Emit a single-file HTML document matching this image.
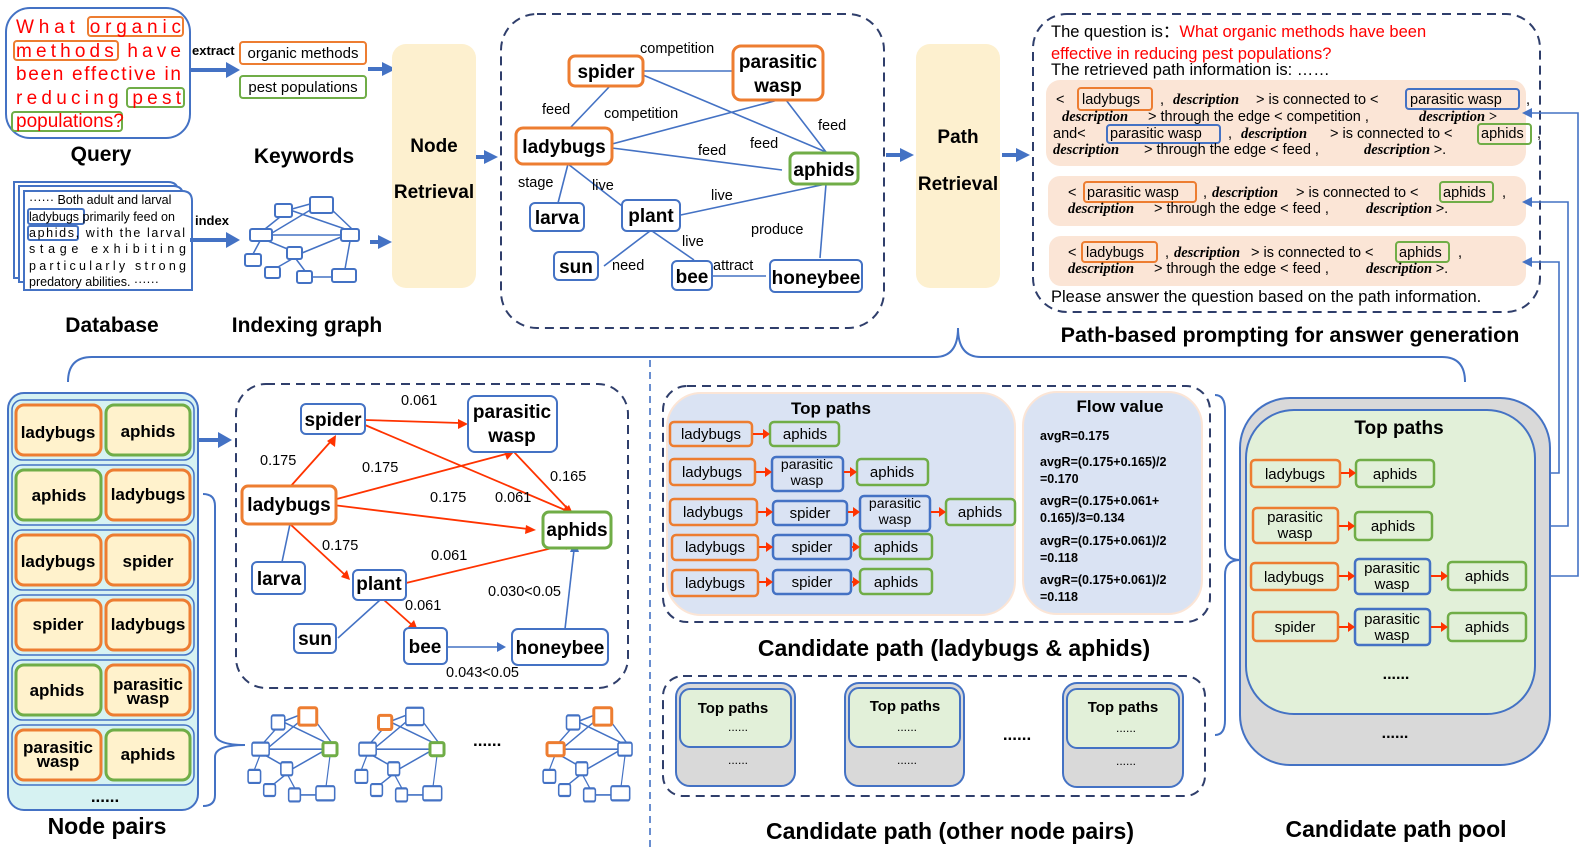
<!DOCTYPE html>
<html><head><meta charset="utf-8"><style>
body{margin:0;background:#fff}
svg{display:block;font-family:"Liberation Sans",sans-serif}
.b{font-weight:bold}
.d{font-family:"Liberation Serif",serif;font-style:italic;font-weight:bold}
</style></head><body>
<svg width="1580" height="856" viewBox="0 0 1580 856" xmlns="http://www.w3.org/2000/svg">
<defs>
<g id="g">
<g fill="none" stroke="#4472C4" stroke-width="1.5" vector-effect="non-scaling-stroke">
<line x1="292" y1="209" x2="310" y2="204"/><line x1="280" y1="217" x2="265" y2="229"/>
<line x1="290" y1="210" x2="345" y2="229"/><line x1="330" y1="208" x2="352" y2="229"/>
<line x1="272" y1="233" x2="312" y2="209"/><line x1="272" y1="235" x2="341" y2="235"/>
<line x1="268" y1="241" x2="290" y2="250"/><line x1="253" y1="254" x2="260" y2="241"/>
<line x1="302" y1="253" x2="341" y2="237"/><line x1="292" y1="259" x2="278" y2="267"/>
<line x1="296" y1="259" x2="305" y2="271"/><line x1="312" y1="277" x2="332" y2="277"/>
<line x1="350" y1="241" x2="345" y2="269"/>
</g>
<g fill="#fff" stroke="#4472C4" stroke-width="2">
<rect x="275" y="204" width="17" height="13" rx="2"/><rect x="310" y="197" width="23" height="16" rx="2"/>
<rect x="250" y="229" width="22" height="12" rx="2"/><rect x="341" y="229" width="18" height="12" rx="2"/>
<rect x="287" y="247" width="15" height="12" rx="2"/><rect x="245" y="254" width="16" height="12" rx="2"/>
<rect x="265" y="267" width="15" height="11" rx="2"/><rect x="297" y="271" width="15" height="12" rx="2"/>
<rect x="332" y="269" width="24" height="13" rx="2"/>
</g>
</g>
</defs>

<!-- Query -->
<rect x="6" y="8" width="184" height="130" rx="24" fill="#fff" stroke="#4472C4" stroke-width="2"/>
<g fill="none" stroke-width="2">
<rect x="88" y="17" width="95" height="19" rx="3" stroke="#ED7D31"/>
<rect x="14" y="41" width="104" height="19" rx="3" stroke="#ED7D31"/>
<rect x="127" y="88" width="57" height="19" rx="3" stroke="#70AD47"/>
<rect x="12" y="112" width="110" height="19" rx="3" stroke="#70AD47"/>
</g>
<g fill="#FF0000" font-size="19">
<text x="16" y="33" textLength="165" lengthAdjust="spacing">What organic</text>
<text x="16" y="57" textLength="165" lengthAdjust="spacing">methods have</text>
<text x="16" y="80" textLength="165" lengthAdjust="spacing">been effective in</text>
<text x="16" y="104" textLength="165" lengthAdjust="spacing">reducing pest</text>
<text x="16" y="127">populations?</text>
</g>
<text x="101" y="161" font-size="21" class="b" text-anchor="middle">Query</text>
<text x="192" y="55" font-size="13" class="b">extract</text>
<rect x="240" y="42" width="126" height="22" rx="3" fill="#fff" stroke="#ED7D31" stroke-width="2"/>
<rect x="240" y="76" width="126" height="22" rx="3" fill="#fff" stroke="#70AD47" stroke-width="2"/>
<text x="303" y="58" font-size="15" text-anchor="middle">organic methods</text>
<text x="303" y="92" font-size="15" text-anchor="middle">pest populations</text>
<text x="304" y="163" font-size="21" class="b" text-anchor="middle">Keywords</text>

<!-- Database -->
<path d="M14,182 H168 Q178,182 178,192 V278 H14Z" fill="#fff" stroke="#4472C4" stroke-width="2"/>
<path d="M19,186 H173 Q183,186 183,196 V282 H19Z" fill="#fff" stroke="#4472C4" stroke-width="2"/>
<path d="M24,191 H182 Q192,191 192,201 V290 H24Z" fill="#fff" stroke="#4472C4" stroke-width="2"/>
<rect x="28" y="209" width="56" height="15" rx="2" fill="none" stroke="#4472C4" stroke-width="2"/>
<rect x="28" y="226" width="50" height="14" rx="2" fill="none" stroke="#4472C4" stroke-width="2"/>
<g font-size="12.5">
<text x="29" y="204">······ Both adult and larval</text>
<text x="29" y="221">ladybugs primarily feed on</text>
<text x="29" y="237" textLength="156" lengthAdjust="spacing">aphids, with the larval</text>
<text x="29" y="253" textLength="157" lengthAdjust="spacing">stage exhibiting</text>
<text x="29" y="270" textLength="157" lengthAdjust="spacing">particularly strong</text>
<text x="29" y="286">predatory abilities. ······</text>
</g>
<text x="195" y="225" font-size="13" class="b">index</text>
<use href="#g"/>
<text x="112" y="332" font-size="21" class="b" text-anchor="middle">Database</text>
<text x="307" y="332" font-size="21" class="b" text-anchor="middle">Indexing graph</text>

<!-- block arrows -->
<g fill="#4472C4" stroke="none">
<rect x="190" y="68" width="38" height="4"/><polygon points="226,62 240,70 226,78"/>
<rect x="368" y="67" width="16" height="4"/><polygon points="382,62 396,69 382,76"/>
<rect x="190" y="238" width="38" height="4"/><polygon points="226,232 240,240 226,248"/>
<rect x="370" y="240" width="10" height="4"/><polygon points="378,235 392,242 378,249"/>
<rect x="476" y="155" width="10" height="4"/><polygon points="484,150 498,157 484,164"/>
<rect x="886" y="153" width="16" height="4"/><polygon points="900,148 914,155 900,162"/>
<rect x="1002" y="153" width="16" height="4"/><polygon points="1016,148 1030,155 1016,162"/>
<rect x="198" y="438" width="22" height="4"/><polygon points="218,432 232,440 218,448"/>
</g>

<!-- Node Retrieval / Path Retrieval -->
<rect x="392" y="44" width="84" height="244" rx="14" fill="#FDF0CF"/>
<text x="434" y="152" font-size="19" class="b" text-anchor="middle">Node</text>
<text x="434" y="198" font-size="19" class="b" text-anchor="middle">Retrieval</text>
<rect x="916" y="44" width="84" height="244" rx="14" fill="#FDF0CF"/>
<text x="958" y="143" font-size="19" class="b" text-anchor="middle">Path</text>
<text x="958" y="190" font-size="19" class="b" text-anchor="middle">Retrieval</text>

<!-- top graph -->
<rect x="501" y="14" width="383" height="314" rx="36" fill="none" stroke="#2F3E6B" stroke-width="2" stroke-dasharray="9,6"/>
<g stroke="#4472C4" stroke-width="1.6">
<line x1="643" y1="71" x2="733" y2="71"/><line x1="610" y1="86" x2="570" y2="128"/>
<line x1="612" y1="144" x2="778" y2="100"/><line x1="643" y1="75" x2="826" y2="152"/>
<line x1="786" y1="100" x2="826" y2="152"/><line x1="612" y1="148" x2="782" y2="170"/>
<line x1="568" y1="164" x2="558" y2="203"/><line x1="568" y1="164" x2="622" y2="206"/>
<line x1="676" y1="216" x2="826" y2="184"/><line x1="650" y1="231" x2="604" y2="266"/>
<line x1="652" y1="231" x2="694" y2="260"/><line x1="712" y1="276" x2="766" y2="276"/>
<line x1="826" y1="184" x2="820" y2="258"/>
</g>
<g fill="#fff" stroke-width="3">
<rect x="569" y="56" width="74" height="30" rx="6" stroke="#ED7D31"/>
<rect x="733" y="46" width="90" height="54" rx="8" stroke="#ED7D31"/>
<rect x="516" y="128" width="96" height="36" rx="7" stroke="#ED7D31"/>
<rect x="790" y="153" width="68" height="31" rx="6" stroke="#70AD47"/>
</g>
<g fill="#fff" stroke="#4472C4" stroke-width="2">
<rect x="530" y="203" width="54" height="28" rx="5"/><rect x="622" y="200" width="58" height="31" rx="5"/>
<rect x="554" y="252" width="44" height="28" rx="5"/><rect x="672" y="261" width="40" height="29" rx="5"/>
<rect x="770" y="260" width="92" height="32" rx="5"/>
</g>
<g font-size="19" class="b" text-anchor="middle">
<text x="606" y="78">spider</text><text x="778" y="68">parasitic</text><text x="778" y="92">wasp</text>
<text x="564" y="153">ladybugs</text><text x="824" y="176">aphids</text><text x="557" y="224">larva</text>
<text x="651" y="222">plant</text><text x="576" y="273">sun</text><text x="692" y="283">bee</text>
<text x="816" y="284">honeybee</text>
</g>
<g font-size="14.5">
<text x="640" y="53">competition</text><text x="542" y="114">feed</text><text x="604" y="118">competition</text>
<text x="818" y="130">feed</text><text x="750" y="148">feed</text><text x="698" y="155">feed</text>
<text x="518" y="187">stage</text><text x="592" y="190">live</text><text x="711" y="200">live</text>
<text x="682" y="246">live</text><text x="751" y="234">produce</text><text x="612" y="270">need</text>
<text x="713" y="270">attract</text>
</g>

<!-- Prompt -->
<rect x="1033" y="14" width="507" height="298" rx="34" fill="none" stroke="#2F3E6B" stroke-width="2" stroke-dasharray="9,6"/>
<g font-size="16.5">
<text x="1051" y="37">The question is：<tspan fill="#FF0000">What organic methods have been</tspan></text>
<text x="1051" y="59" fill="#FF0000">effective in reducing pest populations?</text>
<text x="1051" y="75">The retrieved path information is:  ……</text>
<text x="1051" y="302">Please answer the question based on the path information.</text>
</g>
<rect x="1046" y="80" width="480" height="86" rx="14" fill="#FBE5D6"/>
<rect x="1048" y="176" width="478" height="50" rx="12" fill="#FBE5D6"/>
<rect x="1049" y="236" width="477" height="50" rx="12" fill="#FBE5D6"/>
<g fill="none" stroke-width="2">
<rect x="1078" y="88" width="74" height="22" rx="3" stroke="#ED7D31"/>
<rect x="1406" y="89" width="113" height="20" rx="3" stroke="#4472C4"/>
<rect x="1107" y="125" width="113" height="18" rx="3" stroke="#4472C4"/>
<rect x="1478" y="124" width="53" height="20" rx="3" stroke="#70AD47"/>
<rect x="1084" y="182" width="112" height="20" rx="3" stroke="#ED7D31"/>
<rect x="1440" y="182" width="53" height="20" rx="3" stroke="#70AD47"/>
<rect x="1082" y="242" width="75" height="20" rx="3" stroke="#ED7D31"/>
<rect x="1396" y="242" width="53" height="20" rx="3" stroke="#70AD47"/>
</g>
<g font-size="14.5">
<text x="1056" y="104">&lt;</text><text x="1082" y="104">ladybugs</text><text x="1160" y="104">,</text>
<text x="1173" y="104" class="d">description</text><text x="1256" y="104">&gt; is connected to &lt;</text>
<text x="1410" y="104">parasitic wasp</text><text x="1526" y="104">,</text>
<text x="1062" y="121" class="d">description</text><text x="1148" y="121">&gt; through the edge &lt;  competition  ,</text>
<text x="1419" y="121" class="d">description &gt;</text>
<text x="1053" y="138">and&lt;</text><text x="1110" y="138">parasitic wasp</text><text x="1228" y="138">,</text>
<text x="1241" y="138" class="d">description</text><text x="1330" y="138">&gt; is connected to &lt;</text>
<text x="1481" y="138">aphids</text><text x="1537" y="138">,</text>
<text x="1053" y="154" class="d">description</text><text x="1144" y="154">&gt; through the edge &lt;  feed  ,</text>
<text x="1364" y="154" class="d">description <tspan font-style="normal" font-weight="normal" font-family="Liberation Sans">&gt;.</tspan></text>
<text x="1068" y="197">&lt;</text><text x="1087" y="197">parasitic wasp</text><text x="1203" y="197">,</text>
<text x="1212" y="197" class="d">description</text><text x="1296" y="197">&gt; is connected to &lt;</text>
<text x="1443" y="197">aphids</text><text x="1502" y="197">,</text>
<text x="1068" y="213" class="d">description</text><text x="1154" y="213">&gt; through the edge &lt;  feed  ,</text>
<text x="1366" y="213" class="d">description <tspan font-style="normal" font-weight="normal" font-family="Liberation Sans">&gt;.</tspan></text>
<text x="1068" y="257">&lt;</text><text x="1086" y="257">ladybugs</text><text x="1165" y="257">,</text>
<text x="1174" y="257" class="d">description</text><text x="1251" y="257">&gt; is connected to &lt;</text>
<text x="1399" y="257">aphids</text><text x="1458" y="257">,</text>
<text x="1068" y="273" class="d">description</text><text x="1154" y="273">&gt; through the edge &lt;  feed  ,</text>
<text x="1366" y="273" class="d">description <tspan font-style="normal" font-weight="normal" font-family="Liberation Sans">&gt;.</tspan></text>
</g>
<text x="1290" y="342" font-size="21.5" class="b" text-anchor="middle">Path-based prompting for answer generation</text>

<!-- connectors from pool to prompt -->
<g fill="none" stroke="#4472C4" stroke-width="1.6">
<path d="M1434,473 H1559 V262 H1530"/>
<path d="M1432,526 H1568 V202 H1530"/>
<path d="M1526,576 H1578 V113 H1530"/>
</g>
<g fill="#4472C4">
<polygon points="1522,262 1532,257 1532,267"/><polygon points="1522,202 1532,197 1532,207"/><polygon points="1522,113 1532,108 1532,118"/>
</g>

<!-- big brace -->
<path d="M68,382 Q68,357 92,357 H935 Q958,357 958,328 Q958,357 981,357 H1442 Q1465,357 1465,382" fill="none" stroke="#4472C4" stroke-width="2"/>
<line x1="650" y1="360" x2="650" y2="852" stroke="#4472C4" stroke-width="1.6" stroke-dasharray="7,5"/>

<!-- Node pairs -->
<rect x="8" y="393" width="190" height="417" rx="16" fill="#D6F2F2" stroke="#4472C4" stroke-width="2"/>
<g fill="none" stroke="#4472C4" stroke-width="1.5">
<rect x="12" y="400" width="182" height="60" rx="10"/><rect x="12" y="465" width="182" height="60" rx="10"/>
<rect x="12" y="530" width="182" height="60" rx="10"/><rect x="12" y="595" width="182" height="60" rx="10"/>
<rect x="12" y="660" width="182" height="60" rx="10"/><rect x="12" y="725" width="182" height="60" rx="10"/>
</g>
<g fill="#FFF2CC" stroke-width="3">
<rect x="16" y="405" width="85" height="50" rx="8" stroke="#ED7D31"/><rect x="106" y="405" width="84" height="50" rx="8" stroke="#70AD47"/>
<rect x="16" y="470" width="85" height="50" rx="8" stroke="#70AD47"/><rect x="106" y="470" width="84" height="50" rx="8" stroke="#ED7D31"/>
<rect x="16" y="535" width="85" height="50" rx="8" stroke="#ED7D31"/><rect x="106" y="535" width="84" height="50" rx="8" stroke="#ED7D31"/>
<rect x="16" y="600" width="85" height="50" rx="8" stroke="#ED7D31"/><rect x="106" y="600" width="84" height="50" rx="8" stroke="#ED7D31"/>
<rect x="16" y="665" width="85" height="50" rx="8" stroke="#70AD47"/><rect x="106" y="665" width="84" height="50" rx="8" stroke="#ED7D31"/>
<rect x="16" y="730" width="85" height="50" rx="8" stroke="#ED7D31"/><rect x="106" y="730" width="84" height="50" rx="8" stroke="#70AD47"/>
</g>
<g font-size="17" class="b" text-anchor="middle">
<text x="58" y="438">ladybugs</text><text x="148" y="437">aphids</text>
<text x="59" y="501">aphids</text><text x="148" y="500">ladybugs</text>
<text x="58" y="567">ladybugs</text><text x="148" y="567">spider</text>
<text x="58" y="630">spider</text><text x="148" y="630">ladybugs</text>
<text x="57" y="696">aphids</text><text x="148" y="690">parasitic</text><text x="148" y="704">wasp</text>
<text x="58" y="753">parasitic</text><text x="58" y="767">wasp</text><text x="148" y="760">aphids</text>
<text x="105" y="802">......</text>
</g>
<text x="107" y="834" font-size="23" class="b" text-anchor="middle">Node pairs</text>

<!-- flow graph -->
<rect x="236" y="384" width="392" height="304" rx="30" fill="none" stroke="#2F3E6B" stroke-width="2" stroke-dasharray="9,6"/>
<g stroke="#4472C4" stroke-width="1.6" fill="none">
<line x1="290" y1="524" x2="282" y2="562"/><line x1="380" y1="600" x2="338" y2="638"/>
<line x1="447" y1="647" x2="498" y2="647"/><line x1="565" y1="629" x2="574" y2="550"/>
</g>
<g fill="#4472C4"><polygon points="506,647 497,642 497,652"/><polygon points="575,541 570,552 579,552"/></g>
<g stroke="#FF3300" stroke-width="1.8" fill="none">
<line x1="290" y1="487" x2="332" y2="440"/><line x1="365" y1="420" x2="460" y2="423"/>
<line x1="333" y1="500" x2="506" y2="454"/><line x1="365" y1="425" x2="565" y2="510"/>
<line x1="333" y1="505" x2="528" y2="529"/><line x1="514" y1="452" x2="567" y2="508"/>
<line x1="290" y1="524" x2="344" y2="574"/><line x1="406" y1="583" x2="565" y2="545"/>
<line x1="384" y1="600" x2="412" y2="625"/>
</g>
<g fill="#FF3300">
<polygon points="336,435 335,447 327,441"/><polygon points="468,424 458,419 458,429"/>
<polygon points="514,452 504,451 507,460"/><polygon points="573,513 562,513 566,505"/>
<polygon points="536,530 526,525 525,534"/><polygon points="573,514 563,511 569,505"/>
<polygon points="350,580 341,577 347,570"/><polygon points="574,543 563,542 566,550"/>
<polygon points="418,631 408,627 414,620"/>
</g>
<g fill="#fff" stroke="#4472C4" stroke-width="2">
<rect x="301" y="404" width="64" height="30" rx="5"/><rect x="468" y="396" width="89" height="56" rx="7"/>
<rect x="252" y="562" width="53" height="32" rx="5"/><rect x="353" y="570" width="53" height="30" rx="5"/>
<rect x="294" y="624" width="42" height="29" rx="5"/><rect x="404" y="628" width="43" height="36" rx="5"/>
<rect x="512" y="629" width="96" height="36" rx="6"/>
</g>
<rect x="242" y="486" width="94" height="38" rx="6" fill="#fff" stroke="#ED7D31" stroke-width="3"/>
<rect x="543" y="512" width="68" height="36" rx="6" fill="#fff" stroke="#70AD47" stroke-width="3"/>
<g font-size="19" class="b" text-anchor="middle">
<text x="333" y="426">spider</text><text x="512" y="418">parasitic</text><text x="512" y="442">wasp</text>
<text x="289" y="511">ladybugs</text><text x="577" y="536">aphids</text><text x="279" y="585">larva</text>
<text x="379" y="590">plant</text><text x="315" y="645">sun</text><text x="425" y="653">bee</text>
<text x="560" y="654">honeybee</text>
</g>
<g font-size="14.5">
<text x="401" y="405">0.061</text><text x="260" y="465">0.175</text><text x="362" y="472">0.175</text>
<text x="550" y="481">0.165</text><text x="430" y="502">0.175</text><text x="495" y="502">0.061</text>
<text x="322" y="550">0.175</text><text x="431" y="560">0.061</text><text x="488" y="596">0.030&lt;0.05</text>
<text x="405" y="610">0.061</text><text x="446" y="677">0.043&lt;0.05</text>
</g>
<path d="M203,494 Q215,494 215,506 V733 Q215,745 245,745 Q215,745 215,757 V795 Q215,806 203,806" fill="none" stroke="#4472C4" stroke-width="2"/>
<g transform="translate(57,493) scale(0.78,1.09)"><use href="#g"/>
<g fill="none" stroke-width="3" vector-effect="non-scaling-stroke"><rect x="310" y="197" width="23" height="16" rx="2" stroke="#ED7D31" vector-effect="non-scaling-stroke"/><rect x="341" y="229" width="18" height="12" rx="2" stroke="#70AD47" vector-effect="non-scaling-stroke"/></g></g>
<g transform="translate(164,493) scale(0.78,1.09)"><use href="#g"/>
<g fill="none" stroke-width="3"><rect x="275" y="204" width="17" height="13" rx="2" stroke="#ED7D31" vector-effect="non-scaling-stroke"/><rect x="341" y="229" width="18" height="12" rx="2" stroke="#70AD47" vector-effect="non-scaling-stroke"/></g></g>
<g transform="translate(352,493) scale(0.78,1.09)"><use href="#g"/>
<g fill="none" stroke-width="3"><rect x="310" y="197" width="23" height="16" rx="2" stroke="#ED7D31" vector-effect="non-scaling-stroke"/><rect x="250" y="229" width="22" height="12" rx="2" stroke="#ED7D31" vector-effect="non-scaling-stroke"/></g></g>
<text x="473" y="746" font-size="17" class="b">......</text>

<!-- Candidate path ladybugs & aphids -->
<rect x="663" y="386" width="547" height="236" rx="24" fill="none" stroke="#2F3E6B" stroke-width="2" stroke-dasharray="9,6"/>
<rect x="667" y="393" width="348" height="222" rx="34" fill="#DAE3F3" stroke="#FBE5D6" stroke-width="2"/>
<rect x="1023" y="392" width="179" height="222" rx="34" fill="#DAE3F3" stroke="#FBE5D6" stroke-width="2"/>
<text x="831" y="414" font-size="17" class="b" text-anchor="middle">Top paths</text>
<text x="1120" y="412" font-size="17" class="b" text-anchor="middle">Flow value</text>
<g font-size="12.5" class="b">
<text x="1040" y="440">avgR=0.175</text>
<text x="1040" y="466">avgR=(0.175+0.165)/2</text><text x="1040" y="483">=0.170</text>
<text x="1040" y="505">avgR=(0.175+0.061+</text><text x="1040" y="522">0.165)/3=0.134</text>
<text x="1040" y="545">avgR=(0.175+0.061)/2</text><text x="1040" y="562">=0.118</text>
<text x="1040" y="584">avgR=(0.175+0.061)/2</text><text x="1040" y="601">=0.118</text>
</g>
<g fill="none" stroke-width="2.5">
<rect x="670" y="422" width="82" height="24" rx="4" stroke="#ED7D31"/><rect x="770" y="422" width="69" height="24" rx="4" stroke="#70AD47"/>
<rect x="670" y="459" width="85" height="26" rx="4" stroke="#ED7D31"/><rect x="772" y="457" width="71" height="34" rx="4" stroke="#4472C4"/><rect x="857" y="459" width="71" height="26" rx="4" stroke="#70AD47"/>
<rect x="670" y="499" width="87" height="26" rx="4" stroke="#ED7D31"/><rect x="773" y="501" width="74" height="24" rx="4" stroke="#4472C4"/><rect x="860" y="496" width="70" height="35" rx="4" stroke="#4472C4"/><rect x="946" y="499" width="69" height="26" rx="4" stroke="#70AD47"/>
<rect x="672" y="535" width="86" height="25" rx="4" stroke="#ED7D31"/><rect x="773" y="535" width="78" height="24" rx="4" stroke="#4472C4"/><rect x="860" y="534" width="72" height="25" rx="4" stroke="#70AD47"/>
<rect x="672" y="570" width="86" height="26" rx="4" stroke="#ED7D31"/><rect x="773" y="570" width="78" height="24" rx="4" stroke="#4472C4"/><rect x="860" y="569" width="72" height="25" rx="4" stroke="#70AD47"/>
</g>
<g font-size="15" text-anchor="middle">
<text x="711" y="439">ladybugs</text><text x="805" y="439">aphids</text>
<text x="712" y="477">ladybugs</text><text x="807" y="469" font-size="14">parasitic</text><text x="807" y="485" font-size="14">wasp</text><text x="892" y="477">aphids</text>
<text x="713" y="517">ladybugs</text><text x="810" y="518">spider</text><text x="895" y="508" font-size="14">parasitic</text><text x="895" y="524" font-size="14">wasp</text><text x="980" y="517">aphids</text>
<text x="715" y="552">ladybugs</text><text x="812" y="552">spider</text><text x="896" y="552">aphids</text>
<text x="715" y="588">ladybugs</text><text x="812" y="587">spider</text><text x="896" y="587">aphids</text>
</g>
<g stroke="#FF3300" stroke-width="2">
<line x1="753" y1="434" x2="764" y2="434"/><line x1="756" y1="472" x2="766" y2="472"/><line x1="844" y1="472" x2="851" y2="472"/>
<line x1="758" y1="512" x2="767" y2="512"/><line x1="848" y1="512" x2="854" y2="512"/><line x1="931" y1="512" x2="940" y2="512"/>
<line x1="759" y1="547" x2="767" y2="547"/><line x1="852" y1="547" x2="854" y2="547"/>
<line x1="759" y1="582" x2="767" y2="582"/><line x1="852" y1="582" x2="854" y2="582"/>
</g>
<g fill="#FF3300">
<polygon points="770,434 763,429 763,439"/><polygon points="772,472 765,467 765,477"/><polygon points="857,472 850,467 850,477"/>
<polygon points="773,512 766,507 766,517"/><polygon points="860,512 853,507 853,517"/><polygon points="946,512 939,507 939,517"/>
<polygon points="773,547 766,542 766,552"/><polygon points="860,547 853,542 853,552"/>
<polygon points="773,582 766,577 766,587"/><polygon points="860,582 853,577 853,587"/>
</g>
<text x="954" y="656" font-size="23" class="b" text-anchor="middle">Candidate path (ladybugs &amp; aphids)</text>

<!-- other node pairs -->
<rect x="663" y="676" width="542" height="120" rx="20" fill="none" stroke="#2F3E6B" stroke-width="2" stroke-dasharray="9,6"/>
<g stroke="#4472C4" stroke-width="2">
<rect x="676" y="683" width="119" height="103" rx="14" fill="#D9D9D9"/><rect x="680" y="689" width="111" height="58" rx="10" fill="#E2F0D9"/>
<rect x="845" y="683" width="119" height="103" rx="14" fill="#D9D9D9"/><rect x="849" y="688" width="111" height="59" rx="10" fill="#E2F0D9"/>
<rect x="1063" y="683" width="120" height="104" rx="14" fill="#D9D9D9"/><rect x="1067" y="689" width="112" height="59" rx="10" fill="#E2F0D9"/>
</g>
<g font-size="15" class="b" text-anchor="middle">
<text x="733" y="713">Top paths</text><text x="905" y="711">Top paths</text><text x="1123" y="712">Top paths</text>
</g>
<g font-size="12" text-anchor="middle">
<text x="738" y="731">......</text><text x="907" y="731">......</text><text x="1126" y="732">......</text>
<text x="738" y="764">......</text><text x="907" y="764">......</text><text x="1126" y="765">......</text>
</g>
<text x="1017" y="740" font-size="17" class="b" text-anchor="middle">......</text>
<text x="950" y="839" font-size="23" class="b" text-anchor="middle">Candidate path (other node pairs)</text>
<path d="M1215,395 Q1225,395 1225,410 V545 Q1225,560 1240,560 Q1225,560 1225,575 V720 Q1225,735 1215,735" fill="none" stroke="#4472C4" stroke-width="2"/>

<!-- pool -->
<rect x="1240" y="398" width="310" height="367" rx="50" fill="#D9D9D9" stroke="#4472C4" stroke-width="2"/>
<rect x="1246" y="410" width="289" height="304" rx="48" fill="#E2F0D9" stroke="#4472C4" stroke-width="2"/>
<text x="1399" y="434" font-size="19" class="b" text-anchor="middle">Top paths</text>
<g fill="none" stroke-width="2.5">
<rect x="1251" y="460" width="89" height="27" rx="4" stroke="#ED7D31"/><rect x="1356" y="460" width="78" height="27" rx="4" stroke="#70AD47"/>
<rect x="1253" y="508" width="85" height="35" rx="4" stroke="#ED7D31"/><rect x="1355" y="512" width="77" height="28" rx="4" stroke="#70AD47"/>
<rect x="1251" y="563" width="87" height="27" rx="4" stroke="#ED7D31"/><rect x="1355" y="559" width="75" height="35" rx="4" stroke="#4472C4"/><rect x="1448" y="562" width="78" height="28" rx="4" stroke="#70AD47"/>
<rect x="1253" y="612" width="85" height="29" rx="4" stroke="#ED7D31"/><rect x="1355" y="609" width="75" height="36" rx="4" stroke="#4472C4"/><rect x="1448" y="613" width="78" height="28" rx="4" stroke="#70AD47"/>
</g>
<g font-size="15" text-anchor="middle">
<text x="1295" y="479">ladybugs</text><text x="1395" y="479">aphids</text>
<text x="1295" y="522">parasitic</text><text x="1295" y="538">wasp</text><text x="1393" y="531">aphids</text>
<text x="1294" y="582">ladybugs</text><text x="1392" y="573">parasitic</text><text x="1392" y="589">wasp</text><text x="1487" y="581">aphids</text>
<text x="1295" y="632">spider</text><text x="1392" y="624">parasitic</text><text x="1392" y="640">wasp</text><text x="1487" y="632">aphids</text>
</g>
<g stroke="#FF3300" stroke-width="2">
<line x1="1341" y1="473" x2="1349" y2="473"/><line x1="1339" y1="526" x2="1348" y2="526"/>
<line x1="1339" y1="576" x2="1348" y2="576"/><line x1="1431" y1="576" x2="1441" y2="576"/>
<line x1="1339" y1="627" x2="1348" y2="627"/><line x1="1431" y1="627" x2="1441" y2="627"/>
</g>
<g fill="#FF3300">
<polygon points="1356,473 1349,468 1349,478"/><polygon points="1355,526 1348,521 1348,531"/>
<polygon points="1355,576 1348,571 1348,581"/><polygon points="1448,576 1441,571 1441,581"/>
<polygon points="1355,627 1348,622 1348,632"/><polygon points="1448,627 1441,622 1441,632"/>
</g>
<text x="1396" y="679" font-size="16" class="b" text-anchor="middle">......</text>
<text x="1395" y="738" font-size="16" class="b" text-anchor="middle">......</text>
<text x="1396" y="837" font-size="23" class="b" text-anchor="middle">Candidate path pool</text>
</svg>
</body></html>
